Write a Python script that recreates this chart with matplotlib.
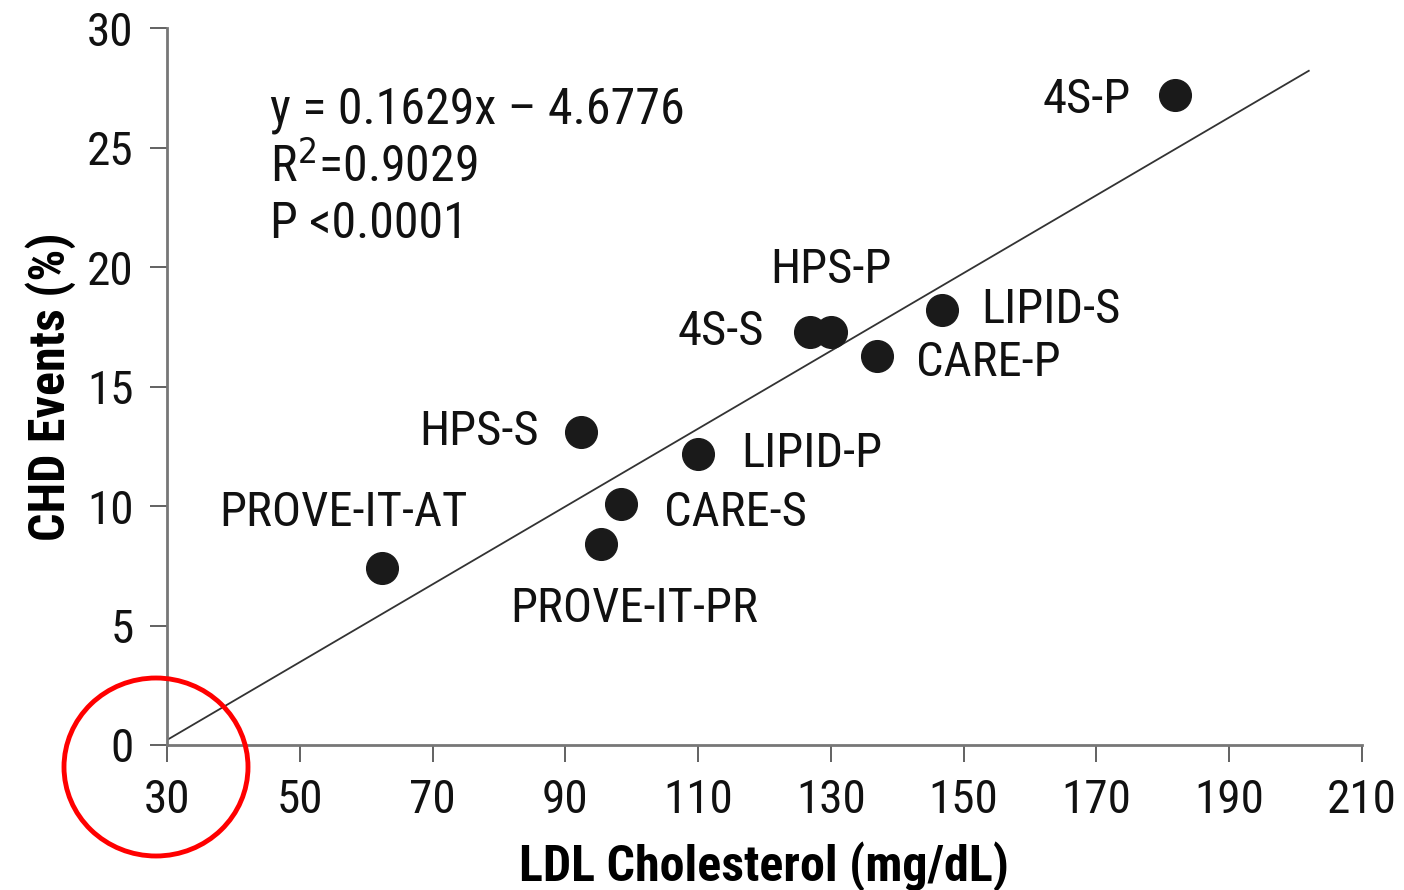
import matplotlib
matplotlib.use("Agg")
import matplotlib.pyplot as plt
from matplotlib.patches import Ellipse
import numpy as np

plt.rcParams['font.family'] = ['Roboto Condensed', 'DejaVu Sans']
plt.rcParams['font.stretch'] = 'condensed'

# trial data (LDL mg/dL, CHD events %)
trials = ["4S-P", "LIPID-S", "HPS-P", "4S-S", "CARE-P", "HPS-S",
          "LIPID-P", "CARE-S", "PROVE-IT-PR", "PROVE-IT-AT"]
ldl = [181.8, 146.7, 130.0, 126.8, 136.9, 92.3, 110.0, 98.4, 95.4, 62.4]
chd = [27.2, 18.2, 17.3, 17.3, 16.3, 13.1, 12.2, 10.1, 8.4, 7.4]

# label offsets in data units (dx, dy) and alignment
label_pos = {
    "4S-P": (-6.6, -0.2, "right"),
    "LIPID-S": (6, 0, "left"),
    "HPS-P": (0, 2.6, "center"),
    "4S-S": (-6.8, 0, "right"),
    "CARE-P": (6, -0.3, "left"),
    "HPS-S": (-6.3, 0, "right"),
    "LIPID-P": (6.5, 0, "left"),
    "CARE-S": (6.5, -0.4, "left"),
    "PROVE-IT-PR": (5, -2.7, "center"),
    "PROVE-IT-AT": (-5.9, 2.3, "center"),
}

slope, intercept = 0.1629, -4.6776
fit_x = np.array([30, 202])

fig = plt.figure(figsize=(14.04, 8.90), dpi=100)
ax = fig.add_axes([0.119, 0.163, 0.851, 0.805])

ax.plot(fit_x, slope * fit_x + intercept, color="#333333", lw=1.3, zorder=1)
ax.scatter(ldl, chd, s=520, color="#1a1a1a", zorder=3)

for name, x, y in zip(trials, ldl, chd):
    dx, dy, ha = label_pos[name]
    ax.text(x + dx, y + dy, name, ha=ha, va="center", fontsize=35, color="#111111")

eq_lines = ["y = 0.1629x \u2013 4.6776", "R$^2$=0.9029", "P <0.0001"]
for i, line in enumerate(eq_lines):
    ax.text(45.5, 26.6 - i * 2.4, line, fontsize=36, va="center", ha="left",
            color="#111111")

ax.set_xlim(30, 210)
ax.set_ylim(0, 30)
ax.set_xticks(np.arange(30, 211, 20))
ax.set_yticks(np.arange(0, 31, 5))
ax.tick_params(axis="both", labelsize=34, length=12, width=1.3, color="#555555",
               labelcolor="#111111")
ax.tick_params(axis="x", pad=12)
ax.tick_params(axis="y", pad=12)
for s in ["top", "right"]:
    ax.spines[s].set_visible(False)
for s in ["left", "bottom"]:
    ax.spines[s].set_color("#777777")
    ax.spines[s].set_linewidth(2)

ax.set_xlabel("LDL Cholesterol (mg/dL)", fontsize=36, fontweight="bold", labelpad=14)
ax.set_ylabel("CHD Events (%)", fontsize=36, fontweight="bold", labelpad=8)

# red circle around origin, in figure pixel coordinates
circle = Ellipse((156 / 1404, 1 - 767 / 890), 184 / 1404, 178 / 890,
                 transform=fig.transFigure, fill=False, edgecolor="red", lw=3.5,
                 clip_on=False)
fig.patches.append(circle)

fig.savefig("out.png", dpi=100)
